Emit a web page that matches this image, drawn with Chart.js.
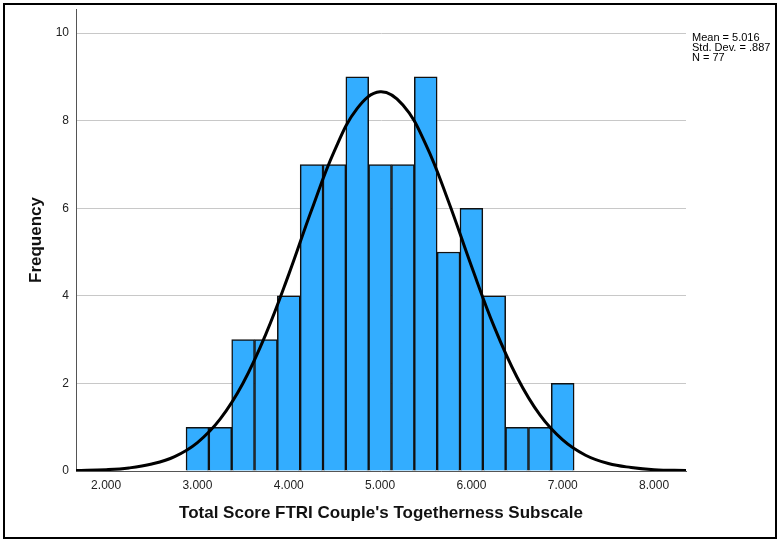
<!DOCTYPE html>
<html>
<head>
<meta charset="utf-8">
<script src="https://cdn.jsdelivr.net/npm/chart.js@4/dist/chart.umd.min.js"></script>
<style>
    html, body { margin: 0; padding: 0; background: #ffffff; }
    #wrap { width: 780px; height: 540px; position: relative; }
</style>
</head>
<body>
<div id="wrap"><canvas id="histChart" width="780" height="540"></canvas></div>
<script>
// bin centres (width 0.25) and counts
const binCenters = [3.00, 3.25, 3.50, 3.75, 4.00, 4.25, 4.50, 4.75, 5.00, 5.25, 5.50, 5.75, 6.00, 6.25, 6.50, 6.75, 7.00];
const binCounts = [1, 1, 3, 3, 4, 7, 7, 9, 7, 7, 9, 5, 6, 4, 1, 1, 2];

// normal curve at these x positions
const curveX = [1.67, 2.00, 2.25, 2.50, 2.75, 3.00, 3.25, 3.50, 3.75, 4.00, 4.25, 4.50, 4.75, 5.00,
                5.25, 5.50, 5.75, 6.00, 6.25, 6.50, 6.75, 7.00, 7.25, 7.50, 7.75, 8.00, 8.35];
const curveY = [0.01, 0.03, 0.07, 0.16, 0.33, 0.65, 1.19, 2.01, 3.13, 4.49, 5.96, 7.31, 8.28, 8.66,
                8.36, 7.46, 6.15, 4.68, 3.29, 2.14, 1.28, 0.71, 0.36, 0.17, 0.08, 0.03, 0.01];

const xTicks = [2, 3, 4, 5, 6, 7, 8];
const yTicks = [0, 2, 4, 6, 8, 10];
const statsLines = ['Mean = 5.016', 'Std. Dev. = .887', 'N = 77'];

const FONT = 'Arial, "Liberation Sans", sans-serif';

// outer frame + stats text
const framePlugin = {
    id: 'frame',
    afterDraw(chart) {
        const ctx = chart.ctx;
        ctx.save();
        ctx.strokeStyle = '#000000';
        ctx.lineWidth = 2;
        ctx.strokeRect(4, 4, 772, 534);

        ctx.fillStyle = '#000000';
        ctx.font = '11px ' + FONT;
        ctx.textAlign = 'left';
        ctx.textBaseline = 'alphabetic';
        statsLines.forEach((t, i) => {
            ctx.fillText(t, chart.chartArea.right + 6, 41 + i * 10);
        });
        ctx.restore();
    }
};

const ctx = document.getElementById('histChart');

new Chart(ctx.getContext('2d'), {
    data: {
        datasets: [
            {
                type: 'line',
                data: curveX.map((x, i) => ({ x: x, y: curveY[i] })),
                borderColor: '#000000',
                borderWidth: 3,
                pointRadius: 0,
                tension: 0.4,
                fill: false,
                order: 0
            },
            {
                type: 'bar',
                data: binCenters.map((x, i) => ({ x: x, y: binCounts[i] })),
                backgroundColor: '#33adff',
                borderColor: '#111111',
                borderWidth: 1.5,
                barPercentage: 1,
                categoryPercentage: 1,
                order: 1
            }
        ]
    },
    options: {
        responsive: false,
        animation: false,
        events: [],
        layout: {
            padding: { left: 0, top: 9, right: 94, bottom: 0 }
        },
        plugins: {
            legend: { display: false },
            tooltip: { enabled: false }
        },
        scales: {
            x: {
                type: 'linear',
                offset: false,
                min: 1.67,
                max: 8.35,
                afterBuildTicks: scale => { scale.ticks = xTicks.map(v => ({ value: v })); },
                afterFit: scale => {
                    scale.height = 69;
                    scale.paddingLeft = 0;
                    scale.paddingRight = 0;
                },
                grid: { display: false, drawTicks: false, offset: false },
                border: { display: true, color: '#555555', width: 1 },
                ticks: {
                    padding: 7,
                    color: '#222222',
                    font: { family: FONT, size: 12 },
                    maxRotation: 0,
                    callback: v => v.toFixed(3)
                },
                title: {
                    display: true,
                    text: "Total Score FTRI Couple's Togetherness Subscale",
                    color: '#111111',
                    font: { family: FONT, size: 17, weight: 'bold' },
                    padding: { top: 0, bottom: 16 }
                }
            },
            y: {
                type: 'linear',
                min: 0,
                max: 10.55,
                afterBuildTicks: scale => { scale.ticks = yTicks.map(v => ({ value: v })); },
                afterFit: scale => {
                    scale.width = 76;
                    scale.paddingTop = 0;
                    scale.paddingBottom = 0;
                },
                grid: { color: '#c8c8c8', lineWidth: 1, drawTicks: false },
                border: { display: true, color: '#555555', width: 1 },
                ticks: {
                    padding: 7,
                    color: '#222222',
                    font: { family: FONT, size: 12 }
                },
                title: {
                    display: true,
                    text: 'Frequency',
                    color: '#111111',
                    font: { family: FONT, size: 17, weight: 'bold' },
                    padding: { top: 26, bottom: 0 }
                }
            }
        }
    },
    plugins: [framePlugin]
});
</script>
</body>
</html>
